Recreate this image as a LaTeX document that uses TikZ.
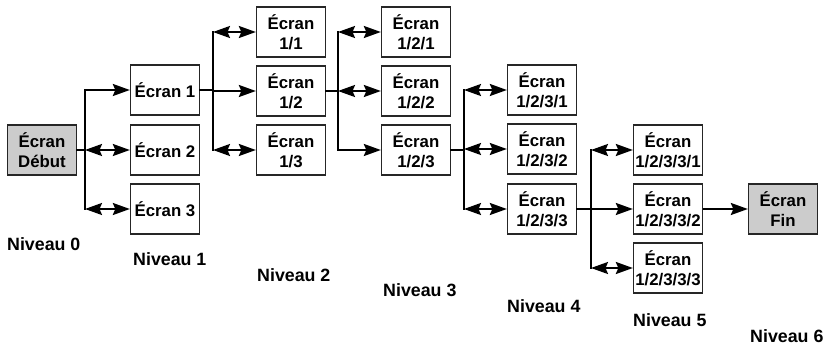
\documentclass[tikz,border=0pt]{standalone}
\usepackage{fontspec}
\setmainfont{Liberation Sans}
\usetikzlibrary{arrows.meta}

\tikzset{
  ecran/.style={draw=black!85, line width=1.3pt, minimum width=69pt, minimum height=50pt,
    inner sep=0pt, align=center, font=\fontsize{16.8}{19.5}\selectfont\bfseries},
  ecrangris/.style={ecran, fill=gray!40},
  niveau/.style={anchor=base west, inner sep=0pt, font=\fontsize{17.8}{20}\selectfont\bfseries},
  lien/.style={line width=2pt, line cap=rect},
  aller/.style={line width=2pt, -{Stealth[length=17pt,width=12pt,inset=2.5pt]}},
  allerretour/.style={line width=2pt,
    {Stealth[length=17pt,width=12pt,inset=2.5pt]}-{Stealth[length=17pt,width=12pt,inset=2.5pt]}},
}

\begin{document}
\begin{tikzpicture}[x=1pt,y=-1pt]
  \useasboundingbox (0,0) rectangle (827,345);

  % les ecrans, colonne par colonne
  \node[ecrangris] (debut) at (42,150) {Écran\\Début};

  \node[ecran] (e1) at (165,90)  {Écran 1};
  \node[ecran] (e2) at (165,150) {Écran 2};
  \node[ecran] (e3) at (165,209) {Écran 3};

  \node[ecran] (e11) at (291,32)  {Écran\\1/1};
  \node[ecran] (e12) at (291,91)  {Écran\\1/2};
  \node[ecran] (e13) at (291,150) {Écran\\1/3};

  \node[ecran] (e121) at (416,32)  {Écran\\1/2/1};
  \node[ecran] (e122) at (416,91)  {Écran\\1/2/2};
  \node[ecran] (e123) at (416,150) {Écran\\1/2/3};

  \node[ecran] (e1231) at (542,90)  {Écran\\1/2/3/1};
  \node[ecran] (e1232) at (542,149) {Écran\\1/2/3/2};
  \node[ecran] (e1233) at (542,209) {Écran\\1/2/3/3};

  \node[ecran] (e12331) at (668,150) {Écran\\1/2/3/3/1};
  \node[ecran] (e12332) at (668,209) {Écran\\1/2/3/3/2};
  \node[ecran] (e12333) at (668,268) {Écran\\1/2/3/3/3};

  \node[ecrangris] (fin) at (783,209) {Écran\\Fin};

  % les niveaux
  \node[niveau] (n0) at (7,250)   {Niveau 0};
  \node[niveau] (n1) at (133,265) {Niveau 1};
  \node[niveau] (n2) at (257,281) {Niveau 2};
  \node[niveau] (n3) at (383,296) {Niveau 3};
  \node[niveau] (n4) at (507,312) {Niveau 4};
  \node[niveau] (n5) at (633,326) {Niveau 5};
  \node[niveau] (n6) at (750,342) {Niveau 6};

  % les troncs
  \coordinate (t1) at (85,0);
  \coordinate (t2) at (213,0);
  \coordinate (t3) at (338,0);
  \coordinate (t4) at (464,0);
  \coordinate (t5) at (591,0);

  % niveau 0 -> 1
  \draw[lien] (debut.east) -- (debut.east -| t1);
  \draw[lien] (e1.west -| t1) -- (e3.west -| t1);
  \draw[aller] (e1.west -| t1) -- (e1.west);
  \draw[allerretour] (e2.west -| t1) -- (e2.west);
  \draw[allerretour] (e3.west -| t1) -- (e3.west);

  % niveau 1 -> 2
  \draw[lien] (e1.east) -- (e1.east -| t2);
  \draw[lien] (e11.west -| t2) -- (e13.west -| t2);
  \draw[allerretour] (e11.west -| t2) -- (e11.west);
  \draw[aller] (e12.west -| t2) -- (e12.west);
  \draw[allerretour] (e13.west -| t2) -- (e13.west);

  % niveau 2 -> 3
  \draw[lien] (e12.east) -- (e12.east -| t3);
  \draw[lien] (e121.west -| t3) -- (e123.west -| t3);
  \draw[allerretour] (e121.west -| t3) -- (e121.west);
  \draw[allerretour] (e122.west -| t3) -- (e122.west);
  \draw[aller] (e123.west -| t3) -- (e123.west);

  % niveau 3 -> 4
  \draw[lien] (e123.east) -- (e123.east -| t4);
  \draw[lien] (e1231.west -| t4) -- (e1233.west -| t4);
  \draw[allerretour] (e1231.west -| t4) -- (e1231.west);
  \draw[allerretour] (e1232.west -| t4) -- (e1232.west);
  \draw[allerretour] (e1233.west -| t4) -- (e1233.west);

  % niveau 4 -> 5
  \draw[lien] (e1233.east) -- (e1233.east -| t5);
  \draw[lien] (e12331.west -| t5) -- (e12333.west -| t5);
  \draw[allerretour] (e12331.west -| t5) -- (e12331.west);
  \draw[aller] (e12332.west -| t5) -- (e12332.west);
  \draw[allerretour] (e12333.west -| t5) -- (e12333.west);

  % niveau 5 -> 6
  \draw[aller] (e12332.east) -- (fin.west);
\end{tikzpicture}
\end{document}
